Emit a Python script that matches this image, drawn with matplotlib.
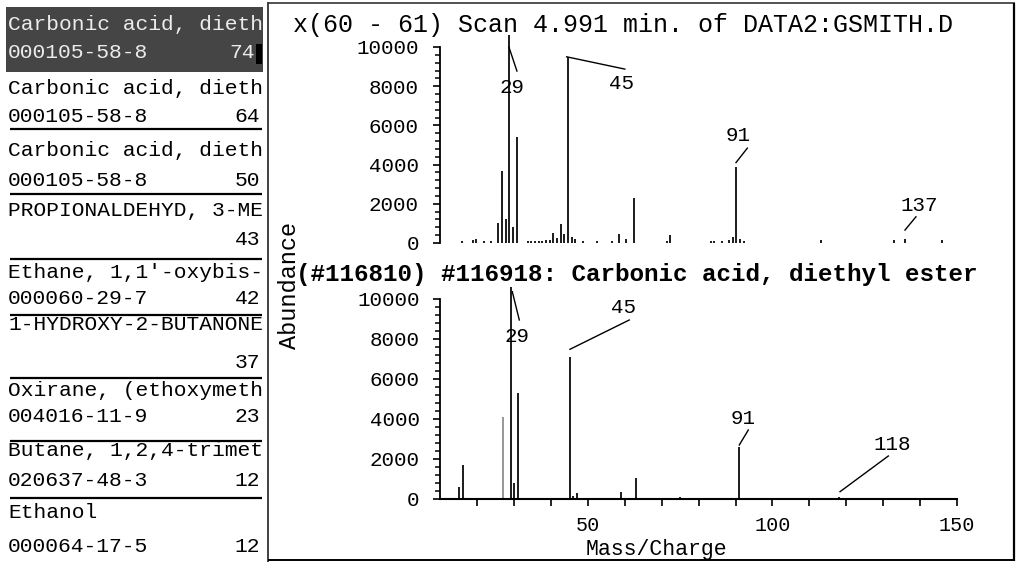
import matplotlib
matplotlib.use("Agg")
import matplotlib.pyplot as plt
import matplotlib.transforms as mtransforms
from matplotlib.lines import Line2D
from matplotlib.patches import Rectangle

W, H, DPI = 1020, 564, 100
MONO = ["Liberation Mono", "DejaVu Sans Mono"]

# ---- library search hit list ----
hit_names = ["Carbonic acid, dieth", "Carbonic acid, dieth", "Carbonic acid, dieth",
             "PROPIONALDEHYD, 3-ME", "Ethane, 1,1'-oxybis-", "1-HYDROXY-2-BUTANONE",
             "Oxirane, (ethoxymeth", "Butane, 1,2,4-trimet", "Ethanol"]
hit_cas = ["000105-58-8", "000105-58-8", "000105-58-8", "", "000060-29-7", "",
           "004016-11-9", "020637-48-3", "000064-17-5"]
hit_quality = [74, 64, 50, 43, 42, 37, 23, 12, 12]

# ---- scan spectrum (upper panel) ----
scan_title = "x(60 - 61) Scan 4.991 min. of DATA2:GSMITH.D"
scan_mz = [16, 19, 20, 22, 24, 26, 27, 28, 29, 30, 31, 34, 35, 36, 37, 38, 39, 40,
           41, 42, 43, 44, 45, 46, 47, 49, 53, 57, 59, 61, 63, 72, 73, 84, 85, 87,
           89, 90, 91, 92, 93, 114, 134, 137, 147]
scan_abund = [100, 150, 200, 100, 120, 1000, 3650, 1200, 10600, 800, 5400, 120, 120,
              120, 120, 120, 150, 150, 500, 250, 950, 450, 9500, 300, 200, 100, 100,
              100, 450, 200, 2300, 100, 400, 100, 100, 100, 150, 300, 3900, 200, 120,
              150, 150, 200, 150]
scan_labelled = [29, 45, 91, 137]

# ---- reference library spectrum (lower panel) ----
lib_title = "(#116810) #116918: Carbonic acid, diethyl ester"
lib_mz = [15, 16, 27, 29, 30, 31, 45, 46, 47, 59, 63, 75, 91, 118]
lib_abund = [600, 1700, 4100, 10600, 800, 5300, 7100, 150, 280, 350, 1050, 120, 2600, 100]
lib_labelled = [29, 45, 91, 118]
lib_faint = [27]

y_ticks = [0, 2000, 4000, 6000, 8000, 10000]
x_ticks = [20, 30, 40, 50, 60, 70, 80, 90, 100, 110, 120, 130, 140, 150]
x_ticklabels = {50: "50", 100: "100", 150: "150"}
x_label = "Mass/Charge"
y_label = "Abundance"


def fx(x):
    return x / W


def fy(y):
    return 1 - y / H


fig = plt.figure(figsize=(W / DPI, H / DPI), dpi=DPI)
fig.patch.set_facecolor("white")


def fig_line(x0, y0, x1, y1, lw=1.5, color="black"):
    fig.add_artist(Line2D([fx(x0), fx(x1)], [fy(y0), fy(y1)], transform=fig.transFigure,
                          color=color, lw=lw, solid_capstyle="butt"))


# ---- hit list panel ----
line1_y = [25, 88, 150, 211, 273, 324, 390, 450, 513]
line2_y = [53, 117, 180, 240, 299, 362, 417, 480, 547]
sep_y = [129, 194, 259, 315, 378, 441, 498]

fig.add_artist(Rectangle((fx(6), fy(72)), fx(257), 65 / H, transform=fig.transFigure,
                         facecolor="#454545", edgecolor="none"))
fig.add_artist(Rectangle((fx(256), fy(64)), fx(6), 20 / H, transform=fig.transFigure,
                         facecolor="black", edgecolor="none"))
for i, (name, cas, q) in enumerate(zip(hit_names, hit_cas, hit_quality)):
    col = "#ececec" if i == 0 else "black"
    fig.text(fx(8), fy(line1_y[i]), name, family=MONO, fontsize=15.3, color=col,
             ha="left", va="center")
    if cas:
        fig.text(fx(8), fy(line2_y[i]), cas, family=MONO, fontsize=15.3, color=col,
                 ha="left", va="center")
    fig.text(fx(260 if i else 255), fy(line2_y[i]), str(q), family=MONO, fontsize=15.3,
             color=col, ha="right", va="center")
for y in sep_y:
    fig_line(10, y, 262, y, lw=1.6)

# window frame around the spectra
fig_line(268, 2, 268, 562, lw=1.3, color="#333333")
fig_line(268, 3, 1015, 3, lw=1.2, color="#333333")
fig_line(1014, 3, 1014, 561, lw=1.6)
fig_line(268, 560, 1015, 560, lw=1.4)


def make_axes(left, right, base, px_per_unit):
    ymax = 10800
    height = ymax * px_per_unit
    ax = fig.add_axes([fx(left), fy(base), (right - left) / W, height / H])
    ax.set_xlim(10, 150)
    ax.set_ylim(0, ymax)
    ax.patch.set_alpha(0)
    for s in ("top", "right"):
        ax.spines[s].set_visible(False)
    ax.spines["left"].set_bounds(0, 10000)
    ax.spines["left"].set_linewidth(1.3)
    ax.set_yticks(y_ticks)
    ax.set_yticklabels([str(v) for v in y_ticks], family=MONO, fontsize=15)
    ax.set_yticks(range(0, 10001, 400), minor=True)
    ax.tick_params(axis="y", which="major", direction="out", length=5, width=1.2, pad=10)
    ax.tick_params(axis="y", which="minor", direction="out", length=3.5, width=1.1)
    return ax


def draw_spectrum(ax, mz, ab, faint=()):
    for m, a in zip(mz, ab):
        ax.vlines(m, 0, a, color="#8a8a8a" if m in faint else "black", lw=1.25)


def leader(ax, m, a, p0, p1):
    tr = mtransforms.IdentityTransform() + mtransforms.ScaledTranslation(m, a, ax.transData)
    ax.add_artist(Line2D([p0[0], p1[0]], [p0[1], p1[1]], transform=tr, color="black",
                         lw=1.0, clip_on=False))


def peak_label(ax, m, a, offset, seg):
    ax.annotate(str(m), xy=(m, a), xytext=offset, textcoords="offset pixels",
                ha="center", va="center", family=MONO, fontsize=15, annotation_clip=False)
    leader(ax, m, a, seg[0], seg[1])


# upper panel: scan
ax1 = make_axes(439.6, 952.6, 243, 0.0196)
ax1.spines["bottom"].set_visible(False)
ax1.set_xticks([])
draw_spectrum(ax1, scan_mz, scan_abund)
scan_ab = dict(zip(scan_mz, scan_abund))
scan_geom = {29: ((3.2, -51.8), ((-0.3, -11.8), (7.7, -35.8))),
             45: ((54, -26.8), ((-1.2, 0), (57, -12.3))),
             91: ((2.1, 30.7), ((-0.4, 4), (10.9, 18.4))),
             137: ((14.5, 34), ((0, 9), (11, 22.3)))}
for m in scan_labelled:
    off, seg = scan_geom[m]
    peak_label(ax1, m, scan_ab[m], off, seg)

# lower panel: library reference
ax2 = make_axes(440.4, 957, 499, 0.0200)
ax2.spines["bottom"].set_bounds(10, 150)
ax2.spines["bottom"].set_linewidth(1.5)
ax2.set_xticks(x_ticks)
ax2.set_xticklabels([x_ticklabels.get(t, "") for t in x_ticks], family=MONO, fontsize=14.5)
ax2.tick_params(axis="x", direction="out", length=5, width=1.2, pad=7)
draw_spectrum(ax2, lib_mz, lib_abund, faint=lib_faint)
lib_ab = dict(zip(lib_mz, lib_abund))
lib_geom = {29: ((6, -49.5), ((1.8, -4.7), (8.8, -33))),
            45: ((54.4, 49.5), ((0.4, 7.7), (59.7, 37))),
            91: ((4.2, 28), ((0, 2), (9, 17))),
            118: ((53.6, 52), ((1.1, 5.3), (49.4, 41)))}
for m in lib_labelled:
    off, seg = lib_geom[m]
    peak_label(ax2, m, lib_ab[m], off, seg)

# titles and axis captions
fig.text(fx(293), fy(25), scan_title, family=MONO, fontsize=18, ha="left", va="center")
fig.text(fx(296), fy(275), lib_title, family=MONO, fontsize=17.5, fontweight="bold",
         ha="left", va="center")
fig.text(fx(656), fy(550), x_label, family=MONO, fontsize=15.5, ha="center", va="center")
fig.text(fx(290), fy(285), y_label, family=MONO, fontsize=17, rotation=90,
         ha="center", va="center")

fig.savefig("out.png", dpi=DPI, facecolor="white")
